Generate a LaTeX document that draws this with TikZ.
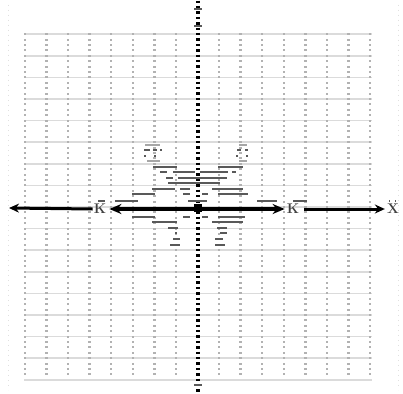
\documentclass[tikz,border=0pt]{standalone}
\usetikzlibrary{arrows.meta}
\begin{document}
\begin{tikzpicture}[x=1pt,y=-1pt,
  gridline/.style={draw=black!14,line width=1.5pt},
  griddot/.style={fill=black!30},
  darkdash/.style={draw=black!65,line width=2pt},
  lightdash/.style={draw=black!35,line width=1.6pt},
  axisline/.style={line width=3pt,-{Stealth[length=10pt,width=9pt]}},
  axislabel/.style={inner sep=1pt,font=\fontsize{14}{14}\selectfont\bfseries,text=black!75}]
\useasboundingbox (0,0) rectangle (403,393);
\fill[white] (0,0) rectangle (403,393);
% faint frame dots
\draw[black!12,line width=0.7pt,dash pattern=on 1pt off 4pt] (8,5) -- (8,390);
\draw[black!12,line width=0.7pt,dash pattern=on 1pt off 4pt] (398,5) -- (398,390);
% horizontal grid lines
\foreach \j in {0,...,16}{
  \pgfmathsetmacro{\yy}{34.2+21.6*\j}
  \draw[gridline] (24,\yy) -- (372,\yy);
}
% grid dots
\foreach \i in {0,...,16}{
  \pgfmathsetmacro{\xx}{25+21.5625*\i}
  \foreach \j in {0,...,63}{
    \pgfmathsetmacro{\yy}{34.2+5.4*\j}
    \fill[griddot] (\xx-1.2,\yy-1) rectangle (\xx+1.2,\yy+1);
  }
}
% vertical axis (dotted)
\draw[black,line width=3.2pt,dash pattern=on 2.4pt off 3pt] (198,0.6) -- (198,392);
% central pattern
\foreach \a/\b/\y in {145/160/144.7,239/247/144.7,147/160/160.7,239/247/160.7}{
  \draw[lightdash] (\a,\y) -- (\b,\y);
}
\foreach \a/\b/\y in {
  144/150/150,153/157/150,160/162/150,237/241/150,245/248/150,
  144/146/155.7,154/156/155.7,236/238/155.7,246/248/155.7,
  153/177/166.7,218/243/166.7,
  160/167/172.3,173/195/172.3,200/228/172.3,232/236/172.3,
  166/173/177.7,178/227/177.7,
  168/220/183.3,
  152/175/189.3,180/190/189.3,212/243/189.3,
  132/155/194.3,183/190/194.3,202/208/194.3,218/248/194.3,
  115/138/200.7,188/207/200.7,257/277/200.7,
  98/105/200.7,293/307/200.7,389/390/200.7,395/396/200.7,
  132/155/216.7,183/190/216.7,202/208/216.7,218/245/216.7,
  152/177/222,212/243/222,
  168/178/228,217/227/228,
  175/177/233.3,220/227/233.3,
  173/180/239,215/223/239,
  170/180/244.7,215/225/244.7}{
  \draw[darkdash] (\a,\y) -- (\b,\y);
}
% marks on the vertical axis
\draw[darkdash,line width=2.2pt] (194,9) -- (202,9);
\draw[darkdash,line width=2.2pt] (194,26) -- (202,26);
\draw[darkdash,line width=2.2pt] (194,385) -- (202,385);
% horizontal axis
\node[axislabel] (K1) at (100,209) {K};
\node[axislabel] (K2) at (293,209) {K};
\node[axislabel] (X) at (393,209) {X};
\coordinate (L) at (9,208);
\draw[axisline] (K1.west) -- (L);
\draw[axisline,line width=3.4pt,{Stealth[length=12pt,width=10pt]}-{Stealth[length=12pt,width=10pt]}] ([xshift=2pt]K1.east) -- ([xshift=-1pt]K2.west);
\draw[axisline] ([xshift=4pt]K2.east) -- ([xshift=-1pt]X.west);
\node[fill=black,minimum size=8pt,inner sep=0pt] (O) at (198,208) {};
\end{tikzpicture}
\end{document}
